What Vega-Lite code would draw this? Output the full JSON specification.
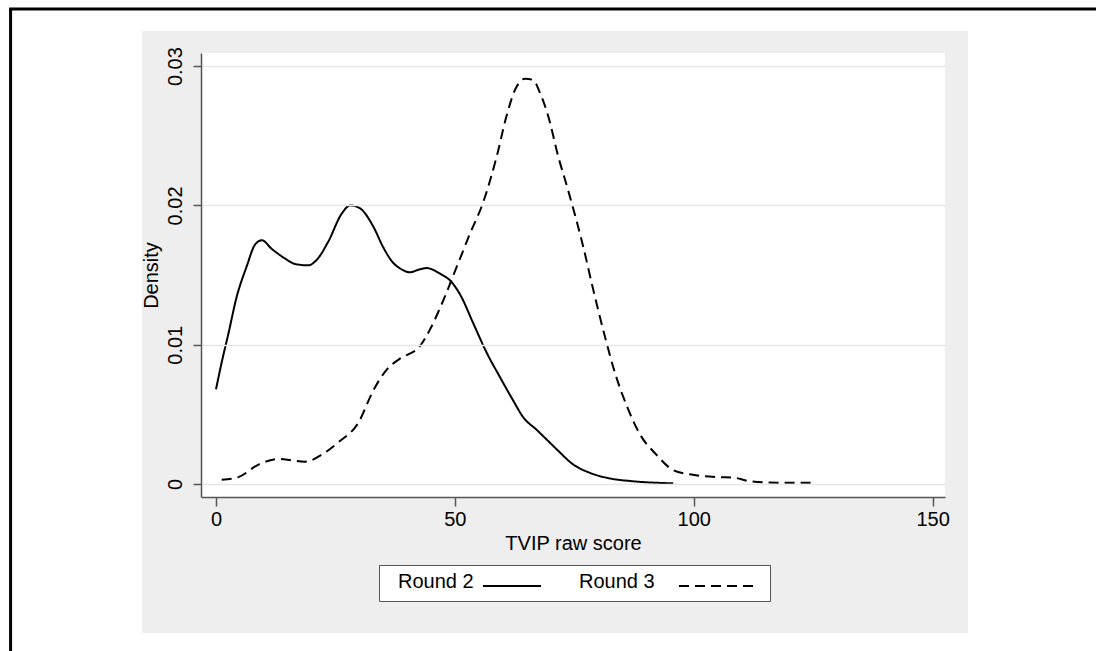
{
  "$schema": "https://vega.github.io/schema/vega-lite/v6.json",
  "width": 744,
  "height": 444,
  "autosize": {"type": "none"},
  "padding": {"left": 201, "top": 53, "right": 151, "bottom": 154},
  "background": "white",
  "config": {"view": {"stroke": null, "fill": "white"}, "font": "Liberation Sans"},
  "layer": [
    {
      "data": {"values": [{"region": "graph"}]},
      "mark": {"type": "rect", "fill": "#eeeeee"},
      "encoding": {
        "x": {"datum": -15.49, "type": "quantitative"},
        "x2": {"datum": 157.41},
        "y": {"datum": 0.03252, "type": "quantitative"},
        "y2": {"datum": -0.01069}
      }
    },
    {
      "data": {"values": [{"region": "plot"}]},
      "mark": {"type": "rect", "fill": "white"},
      "encoding": {
        "x": {"datum": -3.14, "type": "quantitative"},
        "x2": {"datum": 152.6},
        "y": {"datum": -0.00093, "type": "quantitative"},
        "y2": {"datum": 0.03094}
      }
    },
    {
      "data": {"values": [{"edge": "left"}]},
      "mark": {"type": "rule", "color": "black", "strokeWidth": 3},
      "encoding": {
        "x": {"datum": -43.0, "type": "quantitative"},
        "y": {"datum": 0.0341, "type": "quantitative"},
        "y2": {"datum": -0.012}
      }
    },
    {
      "data": {"values": [{"edge": "top"}]},
      "mark": {"type": "rule", "color": "black", "strokeWidth": 3},
      "encoding": {
        "x": {"datum": -43.3, "type": "quantitative"},
        "x2": {"datum": 184.5},
        "y": {"datum": 0.0341, "type": "quantitative"}
      }
    },
    {
      "data": {
        "values": [
          {"series": "Round 2", "score": 0, "density": 0.0068},
          {"series": "Round 2", "score": 1.3, "density": 0.0089},
          {"series": "Round 2", "score": 2.6, "density": 0.0108},
          {"series": "Round 2", "score": 4.3, "density": 0.0134},
          {"series": "Round 2", "score": 6.4, "density": 0.0156},
          {"series": "Round 2", "score": 8.2, "density": 0.0172},
          {"series": "Round 2", "score": 9.6, "density": 0.0175},
          {"series": "Round 2", "score": 11.6, "density": 0.0169},
          {"series": "Round 2", "score": 14.4, "density": 0.0162},
          {"series": "Round 2", "score": 16.5, "density": 0.0158},
          {"series": "Round 2", "score": 19.3, "density": 0.0157},
          {"series": "Round 2", "score": 21.1, "density": 0.0161},
          {"series": "Round 2", "score": 23.5, "density": 0.0174},
          {"series": "Round 2", "score": 26.3, "density": 0.0194},
          {"series": "Round 2", "score": 28.1, "density": 0.0200},
          {"series": "Round 2", "score": 30.1, "density": 0.0198},
          {"series": "Round 2", "score": 32.9, "density": 0.0185},
          {"series": "Round 2", "score": 35.0, "density": 0.0170},
          {"series": "Round 2", "score": 36.8, "density": 0.0160},
          {"series": "Round 2", "score": 38.9, "density": 0.0154},
          {"series": "Round 2", "score": 40.6, "density": 0.0152},
          {"series": "Round 2", "score": 42.5, "density": 0.0154},
          {"series": "Round 2", "score": 44.1, "density": 0.0155},
          {"series": "Round 2", "score": 46.9, "density": 0.0151},
          {"series": "Round 2", "score": 49.3, "density": 0.0145},
          {"series": "Round 2", "score": 51.1, "density": 0.0136},
          {"series": "Round 2", "score": 53.9, "density": 0.0115},
          {"series": "Round 2", "score": 56.7, "density": 0.0094},
          {"series": "Round 2", "score": 59.4, "density": 0.0077},
          {"series": "Round 2", "score": 62.2, "density": 0.0060},
          {"series": "Round 2", "score": 64.3, "density": 0.0048},
          {"series": "Round 2", "score": 67.1, "density": 0.0039},
          {"series": "Round 2", "score": 69.5, "density": 0.0031},
          {"series": "Round 2", "score": 71.3, "density": 0.0025},
          {"series": "Round 2", "score": 74.8, "density": 0.0014},
          {"series": "Round 2", "score": 78.3, "density": 0.0008},
          {"series": "Round 2", "score": 82.5, "density": 0.0004},
          {"series": "Round 2", "score": 87.3, "density": 0.0002},
          {"series": "Round 2", "score": 95.7, "density": 0.00005},
          {"series": "Round 3", "score": 1.2, "density": 0.0003},
          {"series": "Round 3", "score": 4.7, "density": 0.0005},
          {"series": "Round 3", "score": 8.9, "density": 0.0014},
          {"series": "Round 3", "score": 13.4, "density": 0.0018},
          {"series": "Round 3", "score": 15.8, "density": 0.0017},
          {"series": "Round 3", "score": 18.6, "density": 0.0016},
          {"series": "Round 3", "score": 22.1, "density": 0.0021},
          {"series": "Round 3", "score": 25.6, "density": 0.0030},
          {"series": "Round 3", "score": 29.8, "density": 0.0044},
          {"series": "Round 3", "score": 32.9, "density": 0.0067},
          {"series": "Round 3", "score": 35.7, "density": 0.0082},
          {"series": "Round 3", "score": 38.5, "density": 0.0090},
          {"series": "Round 3", "score": 42.7, "density": 0.0099},
          {"series": "Round 3", "score": 44.8, "density": 0.0111},
          {"series": "Round 3", "score": 47.6, "density": 0.0132},
          {"series": "Round 3", "score": 50.4, "density": 0.0156},
          {"series": "Round 3", "score": 53.2, "density": 0.0180},
          {"series": "Round 3", "score": 55.9, "density": 0.0202},
          {"series": "Round 3", "score": 58.75, "density": 0.0235},
          {"series": "Round 3", "score": 60.8, "density": 0.0264},
          {"series": "Round 3", "score": 62.6, "density": 0.0283},
          {"series": "Round 3", "score": 64.7, "density": 0.0291},
          {"series": "Round 3", "score": 66.4, "density": 0.0290},
          {"series": "Round 3", "score": 67.8, "density": 0.0281},
          {"series": "Round 3", "score": 69.55, "density": 0.0264},
          {"series": "Round 3", "score": 71.65, "density": 0.0235},
          {"series": "Round 3", "score": 73.7, "density": 0.0211},
          {"series": "Round 3", "score": 76.9, "density": 0.0170},
          {"series": "Round 3", "score": 79.0, "density": 0.0139},
          {"series": "Round 3", "score": 81.4, "density": 0.0106},
          {"series": "Round 3", "score": 83.5, "density": 0.0080},
          {"series": "Round 3", "score": 86.0, "density": 0.0056},
          {"series": "Round 3", "score": 88.7, "density": 0.0036},
          {"series": "Round 3", "score": 92.2, "density": 0.0021},
          {"series": "Round 3", "score": 95.7, "density": 0.0010},
          {"series": "Round 3", "score": 99.2, "density": 0.0007},
          {"series": "Round 3", "score": 104.8, "density": 0.0005},
          {"series": "Round 3", "score": 108.3, "density": 0.00046},
          {"series": "Round 3", "score": 111.8, "density": 0.0002},
          {"series": "Round 3", "score": 117.3, "density": 0.0001},
          {"series": "Round 3", "score": 124.7, "density": 0.0001}
        ]
      },
      "mark": {"type": "line", "color": "black", "strokeWidth": 2, "interpolate": "monotone"},
      "encoding": {
        "x": {
          "field": "score",
          "type": "quantitative",
          "scale": {"domain": [-3.14, 152.6], "nice": false, "zero": false},
          "axis": {
            "title": "TVIP raw score",
            "values": [0, 50, 100, 150],
            "format": "d",
            "grid": false,
            "labelFlush": false,
            "labelFont": "Liberation Sans",
            "labelFontSize": 20,
            "labelColor": "black",
            "labelPadding": 3,
            "tickSize": 9,
            "tickWidth": 1.5,
            "tickColor": "#555555",
            "domainColor": "#555555",
            "domainWidth": 1.5,
            "titleFont": "Liberation Sans",
            "titleFontSize": 20,
            "titleFontWeight": "normal",
            "titleColor": "black",
            "titlePadding": 4,
            "zindex": 1
          }
        },
        "y": {
          "field": "density",
          "type": "quantitative",
          "scale": {"domain": [-0.00093, 0.03094], "nice": false, "zero": false},
          "axis": {
            "title": "Density",
            "values": [0, 0.01, 0.02, 0.03],
            "format": ".2~f",
            "grid": true,
            "gridColor": "#e6e6e6",
            "gridWidth": 1.5,
            "labelFlush": false,
            "labelAngle": -90,
            "labelAlign": "center",
            "labelBaseline": "alphabetic",
            "labelFont": "Liberation Sans",
            "labelFontSize": 20,
            "labelColor": "black",
            "labelPadding": 12,
            "tickSize": 8,
            "tickWidth": 1.5,
            "tickColor": "#555555",
            "domainColor": "#555555",
            "domainWidth": 1.5,
            "titleFont": "Liberation Sans",
            "titleFontSize": 20,
            "titleFontWeight": "normal",
            "titleColor": "black",
            "titlePadding": 4,
            "zindex": 1
          }
        },
        "strokeDash": {
          "field": "series",
          "type": "nominal",
          "scale": {"domain": ["Round 2", "Round 3"], "range": [[1, 0], [10, 6]]},
          "legend": {
            "orient": "none",
            "legendX": 178,
            "legendY": 512,
            "direction": "horizontal",
            "title": null,
            "fillColor": "white",
            "strokeColor": "#555555",
            "padding": 9,
            "symbolType": "stroke",
            "symbolSize": 484,
            "symbolStrokeWidth": 2,
            "symbolStrokeColor": "black",
            "symbolFillColor": "transparent",
            "labelFont": "Liberation Sans",
            "labelFontSize": 20,
            "labelColor": "black",
            "labelAlign": "left",
            "labelOffset": -103,
            "symbolOffset": 89,
            "columnPadding": 24,
            "labelExpr": "'\u00a0\u00a0' + datum.label",
            "zindex": 1,
            "encode": {
              "symbols": {
                "update": {
                  "shape": {"signal": "datum.value === 'Round 3' ? 'M0.818,0H7.909' : 'M-0.545,0H4.727'"}
                }
              },
              "labels": {
                "update": {
                  "dy": {"value": -4}
                }
              }
            }
          }
        }
      }
    }
  ]
}
